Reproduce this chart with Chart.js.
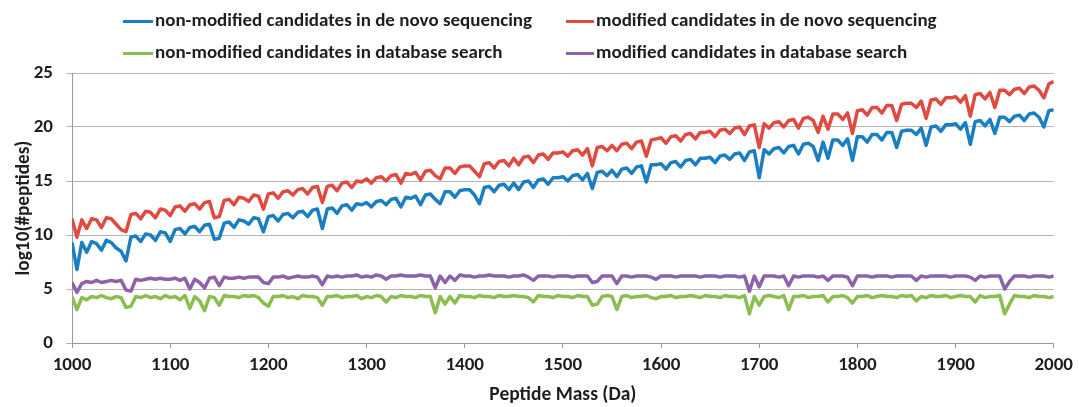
<!DOCTYPE html>
<html>
<head>
<meta charset="utf-8">
<script src="https://cdn.jsdelivr.net/npm/chart.js@4.4.1/dist/chart.umd.min.js"></script>
<style>
html,body{margin:0;padding:0;background:#fff;}
#wrap{position:relative;width:1079px;height:407px;overflow:hidden;}
#c{position:absolute;left:0;top:0;}
.lg{position:absolute;font-family:Carlito,Lato,sans-serif;font-weight:700;font-size:19px;color:#1e1e1e;white-space:nowrap;line-height:20px;}
.sw{position:absolute;height:3px;}
</style>
</head>
<body>
<div id="wrap">
<canvas id="c" width="1079" height="407"></canvas>
<div id="legend"></div>
</div>
<script>
// ---- data ----
const seriesNames = [
  'non-modified candidates in de novo sequencing',
  'modified candidates in de novo sequencing',
  'non-modified candidates in database search',
  'modified candidates in database search'
];
const massStart = 1000, massEnd = 2000, massStep = 5;
const xTicks = [1000,1100,1200,1300,1400,1500,1600,1700,1800,1900,2000];
const yTicks = [0,5,10,15,20,25];

const nonModDeNovo = [
 9.3, 6.8, 9.3, 8.4, 9.4, 9.2, 8.6, 9.5, 9.3, 8.8,
 8.5, 7.6, 9.8, 9.9, 9.4, 10.1, 10.0, 9.5, 10.3, 10.2,
 9.4, 10.5, 10.6, 10.1, 10.7, 10.8, 10.3, 10.9, 11.0, 9.6,
 9.7, 11.1, 11.2, 10.7, 11.4, 11.3, 11.0, 11.6, 11.5, 10.3,
 11.7, 11.8, 11.3, 11.9, 12.0, 11.6, 12.1, 12.2, 11.7, 12.3,
 12.4, 10.6, 12.4, 12.5, 12.0, 12.7, 12.8, 12.3, 12.9, 12.8,
 13.0, 12.6, 13.1, 13.2, 12.8, 13.3, 13.4, 12.6, 13.5, 13.4,
 13.6, 12.8, 13.7, 13.8, 13.3, 12.9, 14.0, 14.0, 13.5, 14.1,
 14.2, 14.2, 13.7, 12.9, 14.4, 14.5, 14.0, 14.6, 14.7, 14.2,
 14.8, 14.2, 14.9, 15.0, 14.4, 15.1, 15.2, 14.7, 15.3, 15.3,
 15.4, 15.0, 15.5, 15.6, 15.1, 15.7, 14.3, 15.8, 15.9, 15.5,
 16.0, 15.4, 16.1, 16.2, 15.7, 16.3, 16.4, 14.9, 16.5, 16.5,
 16.6, 16.1, 16.7, 16.8, 16.3, 16.9, 17.0, 16.5, 17.1, 17.1,
 17.2, 16.7, 17.3, 17.4, 17.0, 17.5, 17.6, 16.9, 17.7, 17.8,
 15.3, 17.9, 17.5, 18.0, 18.1, 17.6, 18.2, 18.3, 17.5, 18.4,
 18.5, 18.2, 16.9, 18.6, 17.1, 18.8, 18.8, 18.3, 18.9, 16.9,
 19.1, 19.1, 18.6, 19.3, 19.3, 18.8, 19.5, 19.5, 18.1, 19.6,
 19.7, 19.7, 19.3, 19.9, 18.3, 20.0, 20.1, 19.6, 20.2, 20.2,
 20.3, 19.8, 20.4, 18.4, 20.5, 20.6, 20.1, 20.7, 19.4, 20.9,
 20.9, 20.5, 21.0, 21.1, 20.6, 21.2, 21.3, 20.9, 20.0, 21.5,
 21.6
];
const modDeNovo = [
 11.5, 9.8, 11.4, 10.6, 11.5, 11.4, 10.7, 11.6, 11.5, 11.0,
 10.5, 10.3, 11.9, 12.0, 11.5, 12.2, 12.1, 11.6, 12.4, 12.3,
 11.8, 12.6, 12.7, 12.2, 12.8, 12.9, 12.4, 13.0, 13.1, 11.6,
 11.7, 13.2, 13.3, 12.8, 13.5, 13.4, 13.1, 13.7, 13.6, 12.4,
 13.8, 13.9, 13.4, 14.0, 14.1, 13.7, 14.2, 14.3, 13.8, 14.4,
 14.5, 13.0, 14.5, 14.6, 14.1, 14.8, 14.9, 14.4, 15.0, 14.9,
 15.2, 14.8, 15.3, 15.4, 15.0, 15.5, 15.6, 14.8, 15.7, 15.6,
 15.8, 15.1, 15.9, 16.0, 15.5, 15.2, 16.2, 16.2, 15.7, 16.3,
 16.4, 16.4, 15.9, 15.4, 16.6, 16.7, 16.2, 16.8, 16.9, 16.4,
 17.1, 16.5, 17.2, 17.3, 16.7, 17.4, 17.5, 17.0, 17.6, 17.6,
 17.7, 17.3, 17.8, 17.9, 17.4, 18.0, 16.4, 18.1, 18.2, 17.8,
 18.3, 17.8, 18.4, 18.5, 18.0, 18.6, 18.7, 17.3, 18.8, 18.9,
 19.0, 18.5, 19.1, 19.2, 18.7, 19.3, 19.4, 18.9, 19.5, 19.5,
 19.6, 19.1, 19.7, 19.8, 19.4, 19.9, 20.0, 19.3, 20.1, 20.2,
 18.1, 20.3, 19.9, 20.4, 20.5, 20.0, 20.6, 20.7, 19.9, 20.8,
 20.9, 20.6, 19.5, 21.0, 19.8, 21.2, 21.2, 20.7, 21.3, 19.4,
 21.5, 21.6, 21.1, 21.8, 21.8, 21.3, 22.0, 22.0, 20.6, 22.1,
 22.2, 22.2, 21.8, 22.4, 20.8, 22.5, 22.6, 22.1, 22.7, 22.7,
 22.8, 22.3, 22.9, 21.0, 23.0, 23.1, 22.6, 23.2, 21.8, 23.4,
 23.4, 23.0, 23.5, 23.6, 23.1, 23.7, 23.8, 23.4, 22.7, 24.0,
 24.2
];
const nonModDb = [
 4.3, 3.1, 4.2, 4.0, 4.3, 4.2, 4.4, 4.2, 4.1, 4.3,
 4.2, 3.3, 3.4, 4.3, 4.2, 4.4, 4.2, 4.3, 4.1, 4.4,
 4.2, 4.3, 4.0, 4.4, 3.2, 4.3, 3.9, 3.0, 4.3, 4.2,
 3.5, 4.4, 4.3, 4.3, 4.2, 4.4, 4.3, 4.4, 4.2, 3.7,
 3.4, 4.3, 4.3, 4.4, 4.2, 4.3, 4.1, 4.4, 4.3, 4.3,
 4.2, 3.5, 4.3, 4.3, 4.4, 4.2, 4.3, 4.3, 4.4, 4.1,
 4.3, 4.2, 4.4, 4.3, 3.8, 4.3, 4.2, 4.4, 4.3, 4.3,
 4.2, 4.4, 4.3, 4.3, 2.8, 4.3, 3.6, 4.3, 3.7, 4.4,
 4.3, 4.3, 4.2, 4.4, 4.3, 4.3, 4.2, 4.4, 4.3, 4.3,
 4.4, 4.3, 4.3, 4.2, 3.8, 4.4, 4.3, 4.3, 4.2, 4.4,
 4.3, 4.3, 4.2, 4.4, 4.3, 4.3, 3.5, 3.6, 4.3, 4.4,
 4.3, 3.1, 4.3, 4.4, 4.2, 4.3, 4.3, 4.4, 4.2, 4.1,
 4.3, 4.3, 4.4, 4.2, 4.3, 4.3, 4.4, 4.3, 4.2, 4.4,
 4.3, 4.3, 4.2, 4.4, 4.3, 4.3, 4.2, 4.4, 2.7, 4.3,
 3.5, 4.3, 4.4, 4.3, 4.2, 4.4, 3.1, 4.3, 4.3, 4.4,
 4.2, 4.3, 4.3, 4.4, 3.8, 4.3, 4.3, 4.4, 4.2, 3.7,
 4.3, 4.3, 4.4, 4.2, 4.3, 4.4, 4.3, 4.3, 4.2, 4.4,
 4.3, 4.4, 3.9, 4.3, 4.2, 4.4, 4.3, 4.3, 4.4, 4.2,
 4.3, 4.4, 4.3, 4.3, 3.8, 4.4, 4.2, 4.3, 4.3, 4.4,
 2.7, 3.6, 4.4, 4.3, 4.3, 4.2, 4.4, 4.3, 4.3, 4.2,
 4.3
];
const modDb = [
 5.6, 4.7, 5.5, 5.7, 5.6, 5.8, 5.6, 5.7, 5.8, 5.7,
 5.8, 4.9, 4.8, 5.9, 5.8, 5.9, 6.0, 5.9, 6.0, 5.9,
 5.9, 6.0, 5.8, 6.0, 5.0, 5.9, 5.6, 5.1, 6.0, 6.1,
 5.3, 6.1, 6.0, 6.0, 6.1, 6.0, 6.1, 6.1, 6.1, 5.6,
 5.5, 6.1, 6.1, 6.2, 6.0, 6.1, 6.2, 6.1, 6.1, 6.2,
 6.1, 5.4, 6.2, 6.1, 6.2, 6.1, 6.2, 6.2, 6.3, 6.1,
 6.2, 6.1, 6.3, 6.2, 5.9, 6.2, 6.2, 6.3, 6.2, 6.2,
 6.2, 6.3, 6.2, 6.2, 5.1, 6.2, 5.6, 6.2, 5.8, 6.3,
 6.2, 6.2, 6.1, 6.2, 6.2, 6.3, 6.2, 6.2, 6.2, 6.1,
 6.2, 6.2, 6.3, 6.1, 5.8, 6.2, 6.2, 6.2, 6.1, 6.2,
 6.2, 6.2, 6.1, 6.2, 6.2, 6.2, 5.6, 5.7, 6.2, 6.2,
 6.2, 5.5, 6.2, 6.2, 6.1, 6.2, 6.2, 6.2, 6.1, 5.9,
 6.2, 6.2, 6.2, 6.1, 6.2, 6.2, 6.2, 6.2, 6.1, 6.2,
 6.2, 6.2, 6.1, 6.2, 6.2, 6.2, 6.1, 6.2, 4.8, 6.2,
 5.2, 6.2, 6.2, 6.2, 6.1, 6.2, 5.3, 6.2, 6.1, 6.2,
 6.2, 6.2, 6.1, 6.2, 5.8, 6.2, 6.2, 6.2, 6.1, 5.3,
 6.2, 6.2, 6.2, 6.1, 6.2, 6.2, 6.2, 6.1, 6.2, 6.2,
 6.2, 6.2, 5.8, 6.2, 6.1, 6.2, 6.2, 6.2, 6.2, 6.1,
 6.2, 6.2, 6.2, 6.1, 5.8, 6.2, 6.1, 6.2, 6.2, 6.2,
 5.0, 5.7, 6.2, 6.2, 6.2, 6.1, 6.2, 6.2, 6.2, 6.1,
 6.2
];
const seriesColors = ['#1a7fc1', '#df4a41', '#8cbd50', '#8a63a8'];

// ---- build ----
const masses = [];
for (let m = massStart; m <= massEnd; m += massStep) masses.push(m);
const allSeries = [nonModDeNovo, modDeNovo, nonModDb, modDb];
const toPoints = arr => arr.map((v, i) => ({x: masses[i], y: v}));

const FONT = 'Carlito, Lato, sans-serif';
const TXT = '#1e1e1e';

new Chart(document.getElementById('c'), {
  type: 'line',
  data: {
    datasets: allSeries.map((s, i) => ({
      label: seriesNames[i],
      data: toPoints(s),
      borderColor: seriesColors[i],
      backgroundColor: seriesColors[i],
      borderWidth: 3.5,
      pointRadius: 0,
      tension: 0,
      borderJoinStyle: 'round',
      fill: false
    }))
  },
  options: {
    responsive: false,
    animation: false,
    devicePixelRatio: 1,
    layout: {padding: {top: 73, right: 21, left: 9, bottom: 0}},
    plugins: {legend: {display: false}, tooltip: {enabled: false}},
    scales: {
      x: {
        type: 'linear', min: massStart, max: massEnd,
        afterBuildTicks: sc => { sc.ticks = xTicks.map(v => ({value: v})); },
        afterFit: sc => { sc.height = 64; },
        ticks: {font: {family: FONT, size: 19, weight: 'bold'}, color: TXT, padding: 6, maxRotation: 0,
                callback: v => String(v)},
        grid: {drawOnChartArea: false, drawTicks: true, tickLength: 5, color: '#9a9a9a'},
        border: {display: true, color: '#9a9a9a', width: 1},
        title: {display: true, text: 'Peptide Mass (Da)', font: {family: FONT, size: 19.5, weight: 'bold'}, color: TXT, padding: {top: 2, bottom: 0}}
      },
      y: {
        min: 0, max: 25,
        afterBuildTicks: sc => { sc.ticks = yTicks.map(v => ({value: v})); },
        afterFit: sc => { sc.width = 63; },
        ticks: {font: {family: FONT, size: 19, weight: 'bold'}, color: TXT, padding: 13},
        grid: {drawOnChartArea: true, drawTicks: true, tickLength: 6, color: '#b4b4b4'},
        border: {display: true, color: '#9a9a9a', width: 1},
        title: {display: true, text: 'log10(#peptides)', font: {family: FONT, size: 19.3, weight: 'bold'}, color: TXT, padding: {top: 4, bottom: 4}}
      }
    }
  }
});

// ---- HTML legend ----
const legendPos = [
  {sx: 123, tx: 155, cy: 21},
  {sx: 566, tx: 596, cy: 21},
  {sx: 123, tx: 155, cy: 53},
  {sx: 566, tx: 596, cy: 53}
];
const lg = document.getElementById('legend');
seriesNames.forEach((name, i) => {
  const p = legendPos[i];
  const sw = document.createElement('div');
  sw.className = 'sw';
  sw.style.left = p.sx + 'px';
  sw.style.width = (p.tx - p.sx - 2) + 'px';
  sw.style.top = (p.cy - 1) + 'px';
  sw.style.background = seriesColors[i];
  lg.appendChild(sw);
  const t = document.createElement('div');
  t.className = 'lg';
  t.style.left = p.tx + 'px';
  t.style.top = (p.cy - 11) + 'px';
  t.textContent = name;
  lg.appendChild(t);
});
</script>
</body>
</html>
